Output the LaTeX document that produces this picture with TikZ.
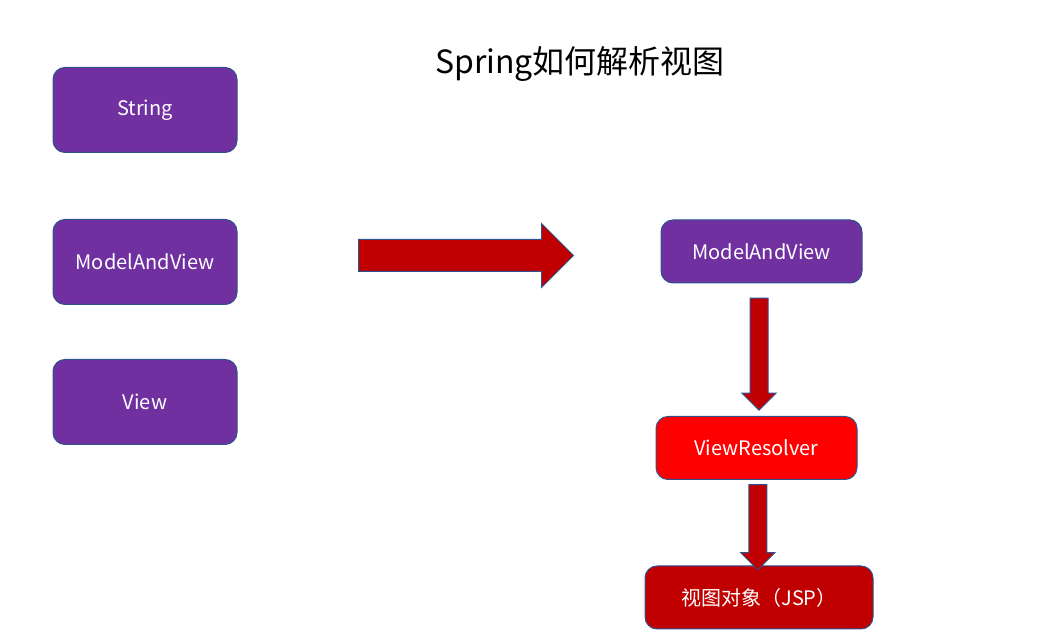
\documentclass[tikz,border=0pt]{standalone}
\usepackage{fontspec}
\setmainfont{Noto Sans CJK SC}
\usetikzlibrary{shapes.arrows,positioning,calc}
\definecolor{boxfill}{HTML}{7030A0}
\definecolor{boxline}{HTML}{2F528F}
\definecolor{resfill}{HTML}{FF0000}
\definecolor{arrfill}{HTML}{C00000}

\begin{document}
\begin{tikzpicture}[
  x=0.5pt, y=-0.5pt,
  font=\fontsize{10}{12}\selectfont,
  box/.style    = {draw=boxline, fill=boxfill, line width=0.5pt, rounded corners=6pt,
                   text=white, minimum width=92pt, minimum height=42.5pt},
  flowbox/.style = {box, minimum width=100.5pt, minimum height=31.5pt},
  blockarr/.style = {single arrow, draw=boxline, fill=arrfill, line width=0.5pt,
                     inner xsep=0pt, inner ysep=4.25pt, single arrow head extend=4pt},
]
\useasboundingbox (0,0) rectangle (1045,635);

% --- title -------------------------------------------------------------------------------------
\node[font=\fontsize{16}{19}\selectfont] (title) at (580,64) {Spring如何解析视图};

% --- the three return types --------------------------------------------------------------------
\node[box] (str)  at (145,110) {String};
\node[box] (mav)  at (145,262) {ModelAndView};
\node[box] (view) at (145,402) {View};

% --- the big arrow -----------------------------------------------------------------------------
\node[blockarr, inner ysep=7.75pt, single arrow head extend=8pt,
      minimum height=107.5pt] (go) at (458,255.5) {};

% --- what spring does with it ------------------------------------------------------------------
\node[flowbox] (mav2) at (761.5,251.5) {ModelAndView};
\node[flowbox, fill=resfill] (res) at (756.5,448) {ViewResolver};
\node[flowbox, fill=arrfill, minimum width=114pt] (jsp) at (759,597.5) {视图对象（JSP）};

\node[blockarr, rotate=-90, minimum height=56pt] (down1) at ($(mav2.south)!0.5!(res.north)$) {};
\node[blockarr, rotate=-90, minimum height=42.5pt] (down2) at ($(res.south)!0.5!(jsp.north)$) {};

\end{tikzpicture}
\end{document}
